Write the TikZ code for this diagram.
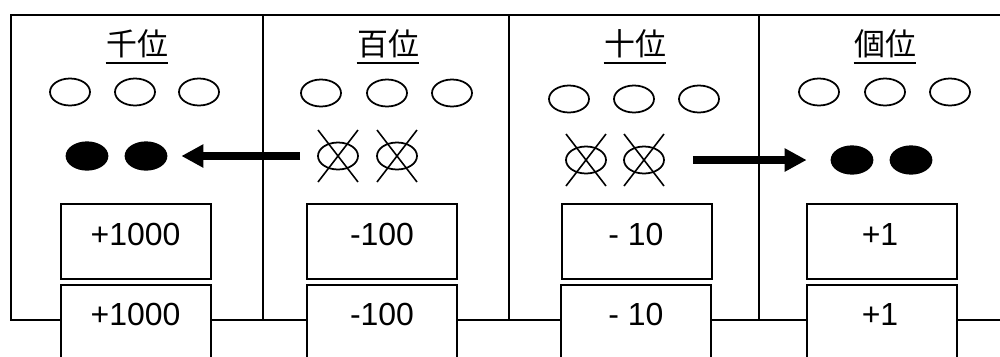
\documentclass[tikz,border=0pt]{standalone}
\usepackage{fontspec}
\setmainfont{Liberation Sans}
\newfontfamily\cjk{Noto Sans CJK JP}
\usetikzlibrary{shapes.geometric,arrows.meta}
\begin{document}
\begin{tikzpicture}[x=0.02cm,y=-0.02cm,
  frame/.style={line width=1.2pt},
  numbox/.style={draw, line width=1.2pt, rectangle, minimum width=3cm, minimum height=1.5cm, inner sep=0pt, fill=white},
  num/.style={font=\fontsize{18.2}{20}\selectfont, inner sep=0pt, anchor=base},
  title/.style={font=\cjk\fontsize{17.6}{20}\selectfont, inner sep=0pt, anchor=base},
  uline/.style={line width=0.9pt},
  oval/.style={ellipse, draw, line width=1pt, minimum width=0.8cm, minimum height=0.54cm, inner sep=0pt},
  dot/.style={oval, fill=black, minimum width=0.82cm, minimum height=0.55cm},
  crossline/.style={line width=0.9pt},
  bigarrow/.style={line width=4.6pt, -{Triangle[length=12.5pt,width=12.5pt]}}]
\useasboundingbox (0,0) rectangle (1000,356);
% frame
\draw[frame] (1010,15) -- (11,15) -- (11,320) -- (1010,320);
\draw[frame] (263,15) -- (263,320);
\draw[frame] (509,15) -- (509,320);
\draw[frame] (759,15) -- (759,320);
% titles
\node[title] (t1) at (137,55) {千位};
\node[title] (t2) at (388,55) {百位};
\node[title] (t3) at (635,55) {十位};
\node[title] (t4) at (885,55) {個位};
\foreach \t in {t1,t2,t3,t4}{
  \draw[uline] ([yshift=-8*0.02cm]\t.base west) -- ([yshift=-8*0.02cm]\t.base east);
}
% empty ovals
\node[oval] (e11) at (70,92) {};
\node[oval] (e12) at (135,92) {};
\node[oval] (e13) at (199,92) {};
\node[oval] (e21) at (321,93) {};
\node[oval] (e22) at (387,93) {};
\node[oval] (e23) at (452,93) {};
\node[oval] (e31) at (569,99) {};
\node[oval] (e32) at (634,99) {};
\node[oval] (e33) at (699,99) {};
\node[oval] (e41) at (819,92) {};
\node[oval] (e42) at (885,92) {};
\node[oval] (e43) at (950,92) {};
% filled ovals
\node[dot] (f11) at (87,156) {};
\node[dot] (f12) at (146,156) {};
\node[dot] (f41) at (852,160) {};
\node[dot] (f42) at (911,160) {};
% crossed ovals
\node[oval] (x21) at (338,156) {};
\node[oval] (x22) at (397,156) {};
\node[oval] (x31) at (586,160) {};
\node[oval] (x32) at (644,160) {};
\foreach \x in {x21,x22,x31,x32}{
  \draw[crossline] ([shift={(-20,-26)}]\x.center) -- ([shift={(20,26)}]\x.center);
  \draw[crossline] ([shift={(20,-26)}]\x.center) -- ([shift={(-20,26)}]\x.center);
}
% arrows
\draw[bigarrow] ([xshift=-17*0.02cm]x21.west) -- ([xshift=14*0.02cm]f12.east);
\draw[bigarrow] ([xshift=28*0.02cm]x32.east) -- ([xshift=-24*0.02cm]f41.west);
% boxes
\node[numbox] (b1u) at (136,241.5) {};
\node[numbox] (b2u) at (382,241.5) {};
\node[numbox] (b3u) at (637,241.5) {};
\node[numbox] (b4u) at (882,241.5) {};
\node[numbox] (b1l) at (136,322.5) {};
\node[numbox] (b2l) at (382,322.5) {};
\node[numbox] (b3l) at (636,322.5) {};
\node[numbox] (b4l) at (882,322.5) {};
\node[num] (n1u) at (135.5,245) {+1000};
\node[num] (n2u) at (382,245) {-100};
\node[num] (n3u) at (636,245) {- 10};
\node[num] (n4u) at (880,245) {+1};
\node[num] (n1l) at (135.5,325) {+1000};
\node[num] (n2l) at (382,325) {-100};
\node[num] (n3l) at (636,325) {- 10};
\node[num] (n4l) at (880,325) {+1};
\end{tikzpicture}
\end{document}
